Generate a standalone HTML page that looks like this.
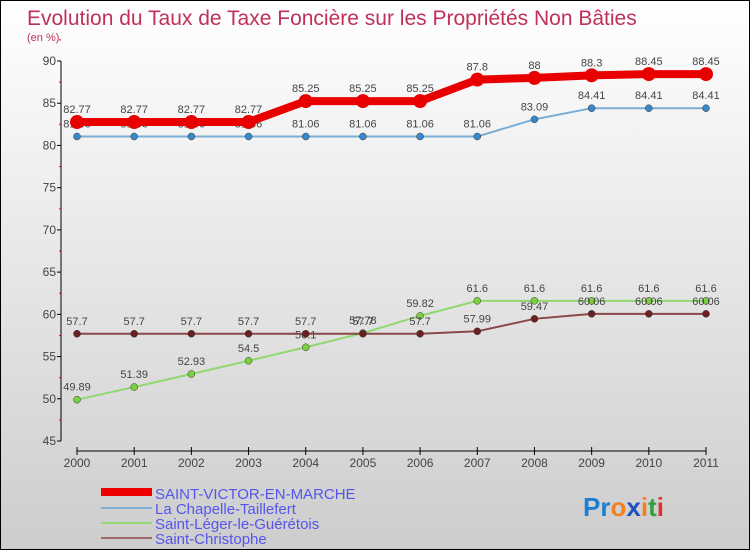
<!DOCTYPE html>
<html><head><meta charset="utf-8"><style>
html,body{margin:0;padding:0}
body{width:750px;height:550px;overflow:hidden;font-family:"Liberation Sans",sans-serif}
#wrap{position:relative;width:748px;height:548px;border:1px solid #000;background:linear-gradient(#ffffff,#cdcdcd)}
svg{position:absolute;left:0;top:0}
</style></head><body>
<div id="wrap">
<svg id="chart" width="748" height="548">
<text x="26" y="24" font-size="21" fill="#c0305a">Evolution du Taux de Taxe Foncière sur les Propriétés Non Bâties</text>
<text x="26" y="40" font-size="11" fill="#c0305a">(en %)</text>
<g id="axes"></g><g id="series"></g>
<g>
<rect x="100" y="487" width="51" height="8" fill="#e00"/>
<text x="154" y="498" font-size="15" fill="#5555ee">SAINT-VICTOR-EN-MARCHE</text>
<rect x="100" y="506" width="51" height="2" fill="#7aaed6"/>
<text x="154" y="513" font-size="15" fill="#5555ee">La Chapelle-Taillefert</text>
<rect x="100" y="521" width="51" height="2" fill="#90d870"/>
<text x="154" y="528" font-size="15" fill="#5555ee">Saint-Léger-le-Guérétois</text>
<rect x="100" y="536" width="51" height="2" fill="#a06868"/>
<text x="154" y="543" font-size="15" fill="#5555ee">Saint-Christophe</text>
</g>
<text x="582" y="515" font-size="26" font-weight="bold"><tspan fill="#1e7fd0">Pr</tspan><tspan fill="#f08020">o</tspan><tspan fill="#1e50c0">x</tspan><tspan fill="#f08020">i</tspan><tspan fill="#30a040">t</tspan><tspan fill="#e03030">i</tspan></text>
</svg>
</div>
<script>
const years=[2000,2001,2002,2003,2004,2005,2006,2007,2008,2009,2010,2011];
const yTicks=[45,50,55,60,65,70,75,80,85,90];
const svm=[82.77,82.77,82.77,82.77,85.25,85.25,85.25,87.8,88,88.3,88.45,88.45];
const lct=[81.06,81.06,81.06,81.06,81.06,81.06,81.06,81.06,83.09,84.41,84.41,84.41];
const slg=[49.89,51.39,52.93,54.5,56.1,57.78,59.82,61.6,61.6,61.6,61.6,61.6];
const sc=[57.7,57.7,57.7,57.7,57.7,57.7,57.7,57.99,59.47,60.06,60.06,60.06];
const NS="http://www.w3.org/2000/svg";
const X0=76,X1=705,Y0=440,Y1=60,YMIN=45,YMAX=90;
const xs=i=>X0+(X1-X0)*i/(years.length-1);
const ys=v=>Y0-(v-YMIN)*(Y0-Y1)/(YMAX-YMIN);
function mk(tag,attrs,parent){const e=document.createElementNS(NS,tag);for(const k in attrs)e.setAttribute(k,attrs[k]);parent.appendChild(e);return e;}
const ax=document.getElementById('axes');
let yl=mk('line',{x1:60,y1:Y1,x2:60,y2:Y0,stroke:'#000'},ax);


yTicks.forEach(t=>{
 mk('line',{x1:56,x2:60,y1:ys(t),y2:ys(t),stroke:'#000'},ax);
 mk('line',{x1:58,x2:60,y1:ys(t+2.5),y2:ys(t+2.5),stroke:'#e00'},ax);
 const tx=mk('text',{x:55,y:ys(t)+4,'font-size':12,fill:'#444','text-anchor':'end'},ax);
 tx.textContent=t;
 
 
});
let xl=mk('line',{x1:X0,y1:450,x2:X1,y2:450,stroke:'#000'},ax);


years.forEach((y,i)=>{
 mk('line',{x1:xs(i),x2:xs(i),y1:446,y2:454,stroke:'#000'},ax);
 const tx=mk('text',{x:xs(i),y:466,'font-size':12,fill:'#444','text-anchor':'middle'},ax);
 tx.textContent=y;
 
 
});
const sg=document.getElementById('series');
function draw(data,color,w,r,dot,name){
 const g=mk('g',{},sg);
 
 
 const p=mk('polyline',{points:data.map((v,i)=>xs(i)+','+ys(v)).join(' '),fill:'none',stroke:color,'stroke-width':w,'stroke-linejoin':'round'},g);
 
 
 data.forEach((v,i)=>{
  const c=mk('circle',{cx:xs(i),cy:ys(v),r:r,fill:dot,stroke:'#333','stroke-width':r>5?0:0.5},g);
  
  
  const t=mk('text',{x:xs(i),y:ys(v)-9,'font-size':11,fill:'#444','text-anchor':'middle'},g);
  t.textContent=v;
  
  
 });
}
draw(lct,'#7aaed6',2,3.5,'#3a88c8','la-chapelle');
draw(slg,'#90d870',2,3.5,'#7cd040','saint-leger');
draw(sc,'#8a4848',2,3.5,'#6a2020','saint-christophe');
draw(svm,'#e80000',8,7,'#e80000','saint-victor');
</script>
</body></html>
